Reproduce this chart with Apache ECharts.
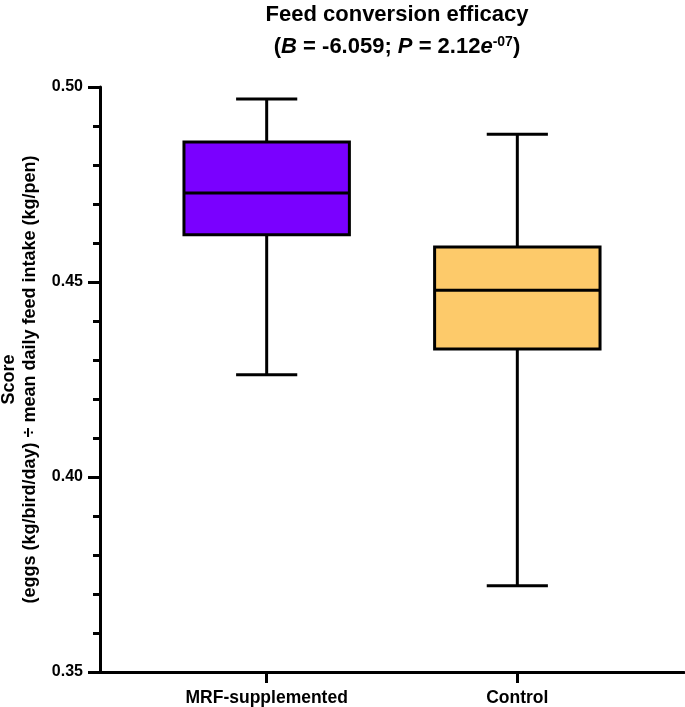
<!DOCTYPE html>
<html>
<head>
<meta charset="utf-8">
<script src="https://cdn.jsdelivr.net/npm/echarts@6/dist/echarts.min.js"></script>
<style>
html,body{margin:0;padding:0;background:#fff;}
#chart{width:685px;height:707px;}
</style>
</head>
<body>
<div id="chart"></div>
<script>
// Data
var categories = ['MRF-supplemented', 'Control'];
var positions = [1, 2];
var minVals    = [0.4262, 0.3721];
var q1Vals     = [0.4621, 0.4328];
var medianVals = [0.4728, 0.4479];
var q3Vals     = [0.4859, 0.4590];
var maxVals    = [0.4969, 0.4879];
var colors = ['#7a00ff', '#fdca6a'];

var FONT = '"Liberation Sans", Arial, sans-serif';
var BOX_HALF = 0.33;   // half box width in x units
var CAP_HALF = 0.122;  // half whisker cap width in x units
var LW = 3;

var seriesData = categories.map(function (c, i) {
  return [positions[i], minVals[i], q1Vals[i], medianVals[i], q3Vals[i], maxVals[i], i];
});

var chart = echarts.init(document.getElementById('chart'));
chart.setOption({
  animation: false,
  backgroundColor: '#fff',
  title: [{
    text: 'Feed conversion efficacy',
    left: 392, top: -1, textAlign: 'center',
    textStyle: {fontFamily: FONT, fontWeight: 'bold', fontSize: 22, color: '#000'}
  }, {
    text: '{a|(}{i|B}{a| = -6.059; }{i|P}{a| = 2.12}{i|e}{s|-07}{a|)}',
    left: 392, top: 29, textAlign: 'center',
    textStyle: {
      fontFamily: FONT, fontWeight: 'bold', fontSize: 22, color: '#000',
      rich: {
        a: {fontFamily: FONT, fontWeight: 'bold', fontSize: 22, color: '#000', lineHeight: 26},
        i: {fontFamily: FONT, fontWeight: 'bold', fontStyle: 'italic', fontSize: 22, color: '#000', lineHeight: 26},
        s: {fontFamily: FONT, fontWeight: 'bold', fontSize: 14, color: '#000', lineHeight: 26, padding: [0, 0, 10, 0]}
      }
    }
  }],
  grid: {left: 100, right: 1, top: 87, bottom: 35, containLabel: false, outerBoundsMode: 'none'},
  xAxis: {
    type: 'value', min: 0.335, max: 2.665,
    axisLine: {show: true, onZero: false, lineStyle: {color: '#000', width: LW}},
    axisTick: {show: true, customValues: positions, length: 11, lineStyle: {color: '#000', width: LW}},
    axisLabel: {
      customValues: positions,
      formatter: function (v) { var k = positions.indexOf(Math.round(v)); return k >= 0 ? categories[k] : ''; },
      fontFamily: FONT, fontWeight: 'bold', fontSize: 17.5, color: '#000', margin: 17
    },
    splitLine: {show: false}
  },
  yAxis: {
    type: 'value', min: 0.35, max: 0.50, interval: 0.05,
    name: 'Score\n(eggs (kg/bird/day) ÷ mean daily feed intake (kg/pen)',
    nameLocation: 'middle', nameRotate: 90, nameGap: 52,
    nameTextStyle: {fontFamily: FONT, fontWeight: 'bold', fontSize: 18, color: '#000', lineHeight: 21, align: 'center'},
    axisLine: {show: true, onZero: false, lineStyle: {color: '#000', width: LW}},
    axisTick: {show: true, length: 12, lineStyle: {color: '#000', width: LW}},
    minorTick: {show: true, splitNumber: 5, length: 7, lineStyle: {color: '#000', width: LW}},
    axisLabel: {
      formatter: function (v) { return v.toFixed(2); },
      fontFamily: FONT, fontWeight: 'bold', fontSize: 16, color: '#000', margin: 17
    },
    splitLine: {show: false}
  },
  series: [{
    type: 'custom',
    data: seriesData,
    encode: {x: 0, y: [1, 2, 3, 4, 5]},
    renderItem: function (params, api) {
      var x = api.value(0);
      var idx = api.value(6);
      function pt(dx, k) { return api.coord([x + dx, api.value(k)]); }
      var lineStyle = {stroke: '#000', lineWidth: LW, fill: null};
      var boxTL = pt(-BOX_HALF, 4), boxBR = pt(BOX_HALF, 2);
      return {
        type: 'group',
        children: [
          {type: 'line', shape: {x1: pt(0, 5)[0], y1: pt(0, 5)[1], x2: pt(0, 4)[0], y2: pt(0, 4)[1]}, style: lineStyle},
          {type: 'line', shape: {x1: pt(0, 2)[0], y1: pt(0, 2)[1], x2: pt(0, 1)[0], y2: pt(0, 1)[1]}, style: lineStyle},
          {type: 'line', shape: {x1: pt(-CAP_HALF, 5)[0], y1: pt(0, 5)[1], x2: pt(CAP_HALF, 5)[0], y2: pt(0, 5)[1]}, style: lineStyle},
          {type: 'line', shape: {x1: pt(-CAP_HALF, 1)[0], y1: pt(0, 1)[1], x2: pt(CAP_HALF, 1)[0], y2: pt(0, 1)[1]}, style: lineStyle},
          {type: 'rect', shape: {x: boxTL[0], y: boxTL[1], width: boxBR[0] - boxTL[0], height: boxBR[1] - boxTL[1]},
            style: {fill: colors[idx], stroke: '#000', lineWidth: LW}},
          {type: 'line', shape: {x1: pt(-BOX_HALF, 3)[0], y1: pt(0, 3)[1], x2: pt(BOX_HALF, 3)[0], y2: pt(0, 3)[1]}, style: lineStyle}
        ]
      };
    }
  }]
});
</script>
</body>
</html>
